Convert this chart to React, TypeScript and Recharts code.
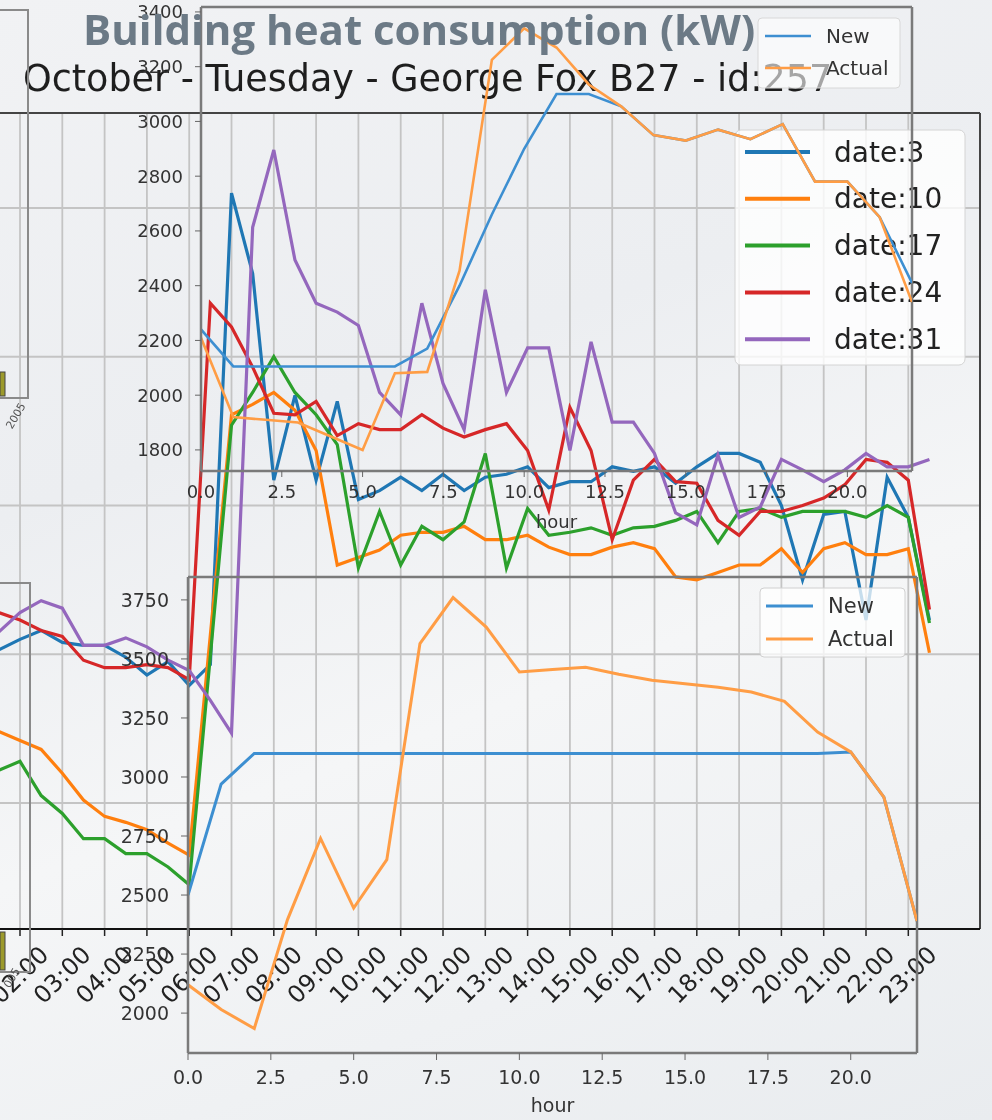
import React from 'react';
import { LineChart, Line, XAxis, YAxis, CartesianGrid, ReferenceLine } from 'recharts';

// ---------- main chart (October - Tuesday), half-hourly ----------
const mainHours = [1.5, 2, 2.5, 3, 3.5, 4, 4.5, 5, 5.5, 6, 6.5, 7, 7.5, 8, 8.5, 9, 9.5, 10, 10.5, 11, 11.5, 12, 12.5, 13, 13.5, 14, 14.5, 15, 15.5, 16, 16.5, 17, 17.5, 18, 18.5, 19, 19.5, 20, 20.5, 21, 21.5, 22, 22.5, 23, 23.5];
const date3 = [1515, 1550, 1580, 1540, 1530, 1530, 1490, 1430, 1475, 1395, 1465, 3050, 2780, 2085, 2370, 2085, 2350, 2020, 2050, 2095, 2050, 2105, 2050, 2095, 2105, 2130, 2060, 2080, 2080, 2130, 2115, 2130, 2075, 2130, 2175, 2175, 2145, 2000, 1750, 1970, 1980, 1615, 2095, 1960, 1615];
const date10 = [1240, 1210, 1180, 1100, 1010, 955, 935, 910, 865, 825, 1565, 2305, 2340, 2380, 2320, 2185, 1800, 1825, 1850, 1900, 1910, 1910, 1930, 1885, 1885, 1900, 1860, 1835, 1835, 1860, 1875, 1855, 1760, 1750, 1775, 1800, 1800, 1855, 1775, 1855, 1875, 1835, 1835, 1855, 1505];
const date17 = [1110, 1140, 1025, 965, 880, 880, 830, 830, 785, 725, 1495, 2270, 2380, 2500, 2380, 2305, 2205, 1790, 1980, 1800, 1930, 1885, 1945, 2175, 1790, 1990, 1900, 1910, 1925, 1900, 1925, 1930, 1950, 1980, 1875, 1980, 1990, 1960, 1980, 1980, 1980, 1960, 2000, 1960, 1605];
const date24 = [1640, 1615, 1580, 1560, 1480, 1455, 1455, 1465, 1455, 1415, 2680, 2600, 2465, 2310, 2305, 2350, 2235, 2275, 2255, 2255, 2305, 2260, 2230, 2255, 2275, 2185, 1985, 2330, 2185, 1885, 2085, 2155, 2080, 2075, 1950, 1900, 1980, 1980, 2000, 2025, 2070, 2155, 2145, 2085, 1650];
const date31 = [1575, 1640, 1680, 1655, 1530, 1530, 1555, 1525, 1480, 1445, 1345, 1235, 2935, 3195, 2825, 2680, 2650, 2605, 2380, 2305, 2680, 2410, 2255, 2725, 2380, 2530, 2530, 2185, 2550, 2280, 2280, 2175, 1975, 1935, 2170, 1960, 1995, 2155, 2120, 2080, 2120, 2175, 2130, 2130, 2155];
const mainTicks = [2, 3, 4, 5, 6, 7, 8, 9, 10, 11, 12, 13, 14, 15, 16, 17, 18, 19, 20, 21, 22, 23];
const mainYTicks = [1000, 1500, 2000, 2500, 3000];
const dateLabels = ['date:3', 'date:10', 'date:17', 'date:24', 'date:31'];
const dateColors = ['#1f77b4', '#ff7f0e', '#2ca02c', '#d62728', '#9467bd'];

// ---------- insets (hourly) ----------
const insetHours = [0, 1, 2, 3, 4, 5, 6, 7, 8, 9, 10, 11, 12, 13, 14, 15, 16, 17, 18, 19, 20, 21, 22];
const topNew = [2240, 2105, 2105, 2105, 2105, 2105, 2105, 2170, 2400, 2660, 2900, 3100, 3100, 3055, 2950, 2930, 2970, 2935, 2990, 2780, 2780, 2650, 2410];
const topActual = [2210, 1920, 1910, 1900, 1850, 1800, 2080, 2085, 2455, 3225, 3340, 3270, 3135, 3055, 2950, 2930, 2970, 2935, 2990, 2780, 2780, 2650, 2340];
const botNew = [2500, 2970, 3100, 3100, 3100, 3100, 3100, 3100, 3100, 3100, 3100, 3100, 3100, 3100, 3100, 3100, 3100, 3100, 3100, 3100, 3106, 2915, 2390];
const botActual = [2120, 2015, 1935, 2395, 2740, 2445, 2650, 3565, 3760, 3635, 3445, 3455, 3465, 3435, 3410, 3395, 3380, 3360, 3320, 3190, 3106, 2915, 2390];
const insetXTicks = [0, 2.5, 5, 7.5, 10, 12.5, 15, 17.5, 20];
const topYTicks = [1800, 2000, 2200, 2400, 2600, 2800, 3000, 3200, 3400];
const botYTicks = [2000, 2250, 2500, 2750, 3000, 3250, 3500, 3750];
const insetLabels = ['New', 'Actual'];
const insetColors = ['#3d8fd1', '#ff9d45'];

const mainData = mainHours.map((h, i) => ({ h, d3: date3[i], d10: date10[i], d17: date17[i], d24: date24[i], d31: date31[i] }));
const topData = insetHours.map((hour, i) => ({ hour, n: topNew[i], a: topActual[i] }));
const botData = insetHours.map((hour, i) => ({ hour, n: botNew[i], a: botActual[i] }));

const DV = '"DejaVu Sans", sans-serif';
const layer: React.CSSProperties = { position: 'absolute', left: 0, top: 0, width: 992, height: 1120 };
const mainXDomain = [1.527, 24.695];
const mainYDomain = [576.5, 3319.3];
const gridColor = '#c4c4c4';

const MainTick = (props: any) => {
  const { x, payload } = props;
  const cy = 975;
  const hh = String(payload.value).padStart(2, '0') + ':00';
  return (
    <text x={x} y={cy} transform={`rotate(-45 ${x} ${cy})`} textAnchor="middle" dominantBaseline="central"
      fontSize={24} fill="#222" fontFamily={DV}>{hh}</text>
  );
};

const fmt1 = (v: number) => v.toFixed(1);

export default function App() {
  const tickStyle = (fs: number) => ({ fontSize: fs, fill: '#333', fontFamily: DV });
  return (
    <div style={{ position: 'absolute', left: 0, top: 0, width: 992, height: 1120, overflow: 'hidden', filter: 'blur(0.3px)',
      background: 'linear-gradient(160deg, #f1f2f4 0%, #eceef1 35%, #f5f6f7 60%, #e9ecef 100%)' }}>
      {/* main chart grid (underneath) */}
      <div style={layer}>
        <LineChart width={992} height={1120} data={mainData} margin={{ top: 113, right: 12, bottom: 191, left: 0 }}>
          <CartesianGrid vertical={false} stroke={gridColor} strokeWidth={1.8} />
          <XAxis hide type="number" dataKey="h" domain={mainXDomain} allowDataOverflow ticks={mainTicks} />
          <YAxis hide domain={mainYDomain} allowDataOverflow ticks={mainYTicks} />
          {mainTicks.map((t) => (
            <ReferenceLine key={t} x={t} stroke={gridColor} strokeWidth={1.8} />
          ))}
        </LineChart>
      </div>
      {/* main chart lines and axis */}
      <div style={layer}>
        <LineChart width={992} height={1120} data={mainData} margin={{ top: 113, right: 12, bottom: 91, left: 0 }}>
          <XAxis type="number" dataKey="h" domain={mainXDomain} allowDataOverflow ticks={mainTicks} interval={0}
            height={100} tick={(p: any) => <MainTick {...p} />} tickSize={7}
            tickLine={{ stroke: '#222', strokeWidth: 1.5 }} axisLine={{ stroke: '#111', strokeWidth: 2 }} />
          <YAxis hide domain={mainYDomain} allowDataOverflow ticks={mainYTicks} />
          <ReferenceLine y={mainYDomain[1]} stroke="#444" strokeWidth={2} />
          <ReferenceLine x={mainXDomain[1]} stroke="#444" strokeWidth={2} />
          {['d3', 'd10', 'd17', 'd24', 'd31'].map((k, i) => (
            <Line key={k} type="linear" dataKey={k} stroke={dateColors[i]} strokeWidth={3.2} dot={false}
              activeDot={false} isAnimationActive={false} />
          ))}
        </LineChart>
      </div>

      {/* subtitle, main legend, left partial frames */}
      <svg style={layer} width={992} height={1120}>
        <text x={23} y={91} fontSize={36.5} fontFamily={DV} fill="#1e1e1e">October - Tuesday - George Fox B27 - id:257</text>
        <rect x={735} y={130} width={230} height={235} rx={6} fill="#ffffff" fillOpacity={0.8} stroke="#d4d4d4" />
        {dateLabels.map((t, i) => (
          <g key={t}>
            <line x1={745} x2={810} y1={152 + i * 46.8} y2={152 + i * 46.8} stroke={dateColors[i]} strokeWidth={4} />
            <text x={834} y={152 + i * 46.8} dominantBaseline="central" fontSize={28} fontFamily={DV} fill="#222">{t}</text>
          </g>
        ))}
        <rect x={-3} y={10} width={31} height={388} fill="none" stroke="#8a8a8a" strokeWidth={2} />
        <rect x={0} y={372} width={5} height={24} fill="#9c9a2c" stroke="#444" />
        <text x={16} y={416} transform="rotate(-60 16 416)" textAnchor="middle" dominantBaseline="central" fontSize={11} fontFamily={DV} fill="#555">2005</text>
        <rect x={-3} y={583} width={33} height={389} fill="none" stroke="#8a8a8a" strokeWidth={2} />
        <rect x={0} y={932} width={5} height={38} fill="#9c9a2c" stroke="#444" />
        <text x={12} y={978} transform="rotate(-60 12 978)" textAnchor="middle" dominantBaseline="central" fontSize={11} fontFamily={DV} fill="#555">005</text>
      </svg>

      {/* bottom inset */}
      <div style={layer}>
        <LineChart width={992} height={1120} data={botData} margin={{ top: 577, right: 75, bottom: 21, left: 108 }}>
          <XAxis type="number" dataKey="hour" domain={[0, 22]} allowDataOverflow ticks={insetXTicks} interval={0}
            height={46} tickFormatter={fmt1} tick={tickStyle(19)} tickSize={7} tickMargin={11}
            tickLine={{ stroke: '#666' }} axisLine={{ stroke: '#7a7a7a', strokeWidth: 2.5 }}
            label={{ value: 'hour', position: 'bottom', offset: 0, fontSize: 19, fill: '#333', fontFamily: DV }} />
          <YAxis width={80} domain={[1831, 3847]} allowDataOverflow ticks={botYTicks} interval={0}
            tick={tickStyle(19)} tickSize={7} tickMargin={12}
            tickLine={{ stroke: '#666' }} axisLine={{ stroke: '#7a7a7a', strokeWidth: 2.5 }} />
          <ReferenceLine y={3847} stroke="#7a7a7a" strokeWidth={2.5} />
          <ReferenceLine x={22} stroke="#7a7a7a" strokeWidth={2.5} />
          <Line type="linear" dataKey="n" stroke={insetColors[0]} strokeWidth={3} dot={false} activeDot={false} isAnimationActive={false} />
          <Line type="linear" dataKey="a" stroke={insetColors[1]} strokeWidth={3} dot={false} activeDot={false} isAnimationActive={false} />
        </LineChart>
      </div>
      <svg style={layer} width={992} height={1120}>
        <rect x={760} y={588} width={145} height={69} rx={4} fill="#ffffff" fillOpacity={0.75} stroke="#d0d0d0" />
        {insetLabels.map((t, i) => (
          <g key={t}>
            <line x1={766} x2={813} y1={606 + i * 33} y2={606 + i * 33} stroke={insetColors[i]} strokeWidth={3} />
            <text x={828} y={606 + i * 33} dominantBaseline="central" fontSize={21} fontFamily={DV} fill="#333">{t}</text>
          </g>
        ))}
      </svg>

      {/* top inset */}
      <div style={layer}>
        <LineChart width={992} height={1120} data={topData} margin={{ top: 7, right: 80, bottom: 605, left: 121 }}>
          <XAxis type="number" dataKey="hour" domain={[0, 22]} allowDataOverflow ticks={insetXTicks} interval={0}
            height={44} tickFormatter={fmt1} tick={tickStyle(18)} tickSize={6} tickMargin={8}
            tickLine={{ stroke: '#666' }} axisLine={{ stroke: '#7a7a7a', strokeWidth: 2.5 }}
            label={{ value: 'hour', position: 'bottom', offset: 0, fontSize: 18, fill: '#333', fontFamily: DV }} />
          <YAxis width={80} domain={[1723, 3418]} allowDataOverflow ticks={topYTicks} interval={0}
            tick={tickStyle(18)} tickSize={6} tickMargin={12}
            tickLine={{ stroke: '#666' }} axisLine={{ stroke: '#7a7a7a', strokeWidth: 2.5 }} />
          <ReferenceLine y={3418} stroke="#7a7a7a" strokeWidth={2.5} />
          <ReferenceLine x={22} stroke="#7a7a7a" strokeWidth={2.5} />
          <Line type="linear" dataKey="n" stroke={insetColors[0]} strokeWidth={2.6} dot={false} activeDot={false} isAnimationActive={false} />
          <Line type="linear" dataKey="a" stroke={insetColors[1]} strokeWidth={2.6} dot={false} activeDot={false} isAnimationActive={false} />
        </LineChart>
      </div>
      <svg style={layer} width={992} height={1120}>
        <rect x={758} y={18} width={142} height={70} rx={4} fill="#ffffff" fillOpacity={0.6} stroke="#d8d8d8" />
        {insetLabels.map((t, i) => (
          <g key={t}>
            <line x1={765} x2={811} y1={36 + i * 32} y2={36 + i * 32} stroke={insetColors[i]} strokeWidth={2.6} />
            <text x={826} y={36 + i * 32} dominantBaseline="central" fontSize={20} fontFamily={DV} fill="#333">{t}</text>
          </g>
        ))}
        <text x={83} y={45} fontSize={42} fontWeight={700} fontFamily='"Open Sans", sans-serif' fill="#6c7a86">Building heat consumption (kW)</text>
      </svg>
    </div>
  );
}
